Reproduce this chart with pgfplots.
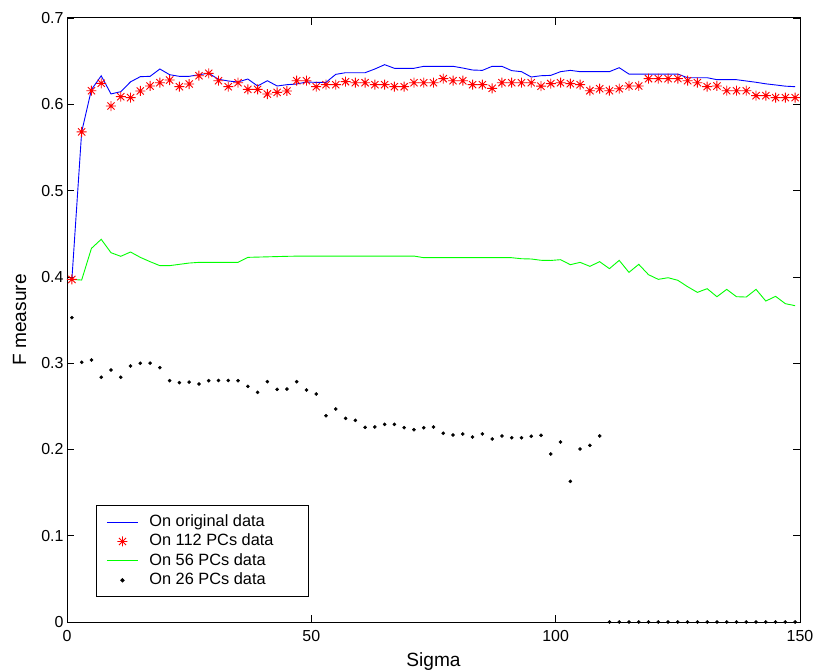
\documentclass[border=0pt]{standalone}
\usepackage{fontspec}
\setmainfont{Liberation Sans}
\usepackage{pgfplots}
\pgfplotsset{compat=1.18}
\usepackage{pgfplotstable}

% eight-armed asterisk marker
\pgfdeclareplotmark{mlstar}{%
  \pgfpathmoveto{\pgfqpoint{-\pgfplotmarksize}{0pt}}%
  \pgfpathlineto{\pgfqpoint{\pgfplotmarksize}{0pt}}%
  \pgfpathmoveto{\pgfqpoint{0pt}{-\pgfplotmarksize}}%
  \pgfpathlineto{\pgfqpoint{0pt}{\pgfplotmarksize}}%
  \pgfpathmoveto{\pgfqpoint{-.72\pgfplotmarksize}{-.72\pgfplotmarksize}}%
  \pgfpathlineto{\pgfqpoint{.72\pgfplotmarksize}{.72\pgfplotmarksize}}%
  \pgfpathmoveto{\pgfqpoint{-.72\pgfplotmarksize}{.72\pgfplotmarksize}}%
  \pgfpathlineto{\pgfqpoint{.72\pgfplotmarksize}{-.72\pgfplotmarksize}}%
  \pgfusepathqstroke}

% F measure against sigma
\pgfplotstableread{
x orig pc112 pc56
1   0.397  0.397  0.397
3   0.568  0.568  0.3963
5   0.617  0.6157 0.433
7   0.633  0.6243 0.4435
9   0.612  0.598  0.428
11  0.6146 0.6088 0.4238
13  0.626  0.6077 0.4288
15  0.632  0.6154 0.4226
17  0.6324 0.6212 0.4176
19  0.6409 0.625  0.413
21  0.6343 0.6281 0.413
23  0.6324 0.6204 0.4145
25  0.6324 0.6235 0.416
27  0.6343 0.6331 0.4168
29  0.6359 0.6359 0.4168
31  0.629  0.6273 0.4168
33  0.627  0.6204 0.4168
35  0.6258 0.625  0.4168
37  0.6293 0.6173 0.4226
39  0.6212 0.6173 0.4229
41  0.6273 0.6119 0.4232
43  0.6212 0.6138 0.4235
45  0.6227 0.6154 0.4238
47  0.6235 0.6273 0.424
49  0.6258 0.6273 0.4241
51  0.6254 0.6204 0.4241
53  0.6254 0.6227 0.4241
55  0.6347 0.6227 0.4241
57  0.6366 0.6262 0.4241
59  0.6366 0.625  0.4241
61  0.6366 0.625  0.4241
63  0.6409 0.6227 0.4241
65  0.6459 0.6227 0.4241
67  0.6417 0.6204 0.4241
69  0.6417 0.6204 0.4241
71  0.6417 0.625  0.4241
73  0.644  0.625  0.4222
75  0.644  0.625  0.4222
77  0.644  0.6297 0.4222
79  0.644  0.6273 0.4222
81  0.642  0.6273 0.4222
83  0.6397 0.6227 0.4222
85  0.6393 0.6227 0.4222
87  0.644  0.6185 0.4222
89  0.644  0.625  0.4222
91  0.639  0.625  0.4222
93  0.6378 0.625  0.421
95  0.6316 0.625  0.4207
97  0.6331 0.621  0.4192
99  0.6335 0.6239 0.419
101 0.6378 0.625  0.4199
103 0.6393 0.6239 0.4141
105 0.6378 0.6227 0.4168
107 0.6378 0.6157 0.4122
109 0.6378 0.618  0.4176
111 0.6378 0.6157 0.4095
113 0.6424 0.618  0.4191
115 0.635  0.6212 0.4052
117 0.635  0.6212 0.4145
119 0.635  0.6297 0.4025
121 0.635  0.6297 0.3971
123 0.635  0.6297 0.399
125 0.635  0.6297 0.396
127 0.6308 0.6273 0.3886
129 0.6308 0.625  0.382
131 0.6308 0.6204 0.3863
133 0.6285 0.6212 0.377
135 0.6285 0.6157 0.3855
137 0.6285 0.6157 0.377
139 0.627  0.6157 0.3766
141 0.6255 0.61   0.3855
143 0.6237 0.61   0.372
145 0.6224 0.6077 0.3774
147 0.621  0.6077 0.3689
149 0.6204 0.6077 0.3666
}\fmeasure

\pgfplotstableread{
x pc26
1   0.3527
3   0.301
5   0.3036
7   0.2836
9   0.292
11  0.2836
13  0.2967
15  0.2998
17  0.300
19  0.2947
21  0.2797
23  0.2774
25  0.278
27  0.2758
29  0.2797
31  0.280
33  0.280
35  0.2797
37  0.2731
39  0.2662
41  0.2785
43  0.2697
45  0.270
47  0.2785
49  0.2689
51  0.2642
53  0.2391
55  0.2468
57  0.236
59  0.2337
61  0.2256
63  0.226
65  0.2291
67  0.2291
69  0.2252
71  0.2229
73  0.2252
75  0.226
77  0.2187
79  0.2167
81  0.2179
83  0.2144
85  0.2179
87  0.2121
89  0.2156
91  0.2136
93  0.2136
95  0.2152
97  0.2163
99  0.1947
101 0.2086
103 0.163
105 0.2005
107 0.2048
109 0.2156
111 0
113 0
115 0
117 0
119 0
121 0
123 0
125 0
127 0
129 0
131 0
133 0
135 0
137 0
139 0
141 0
143 0
145 0
147 0
149 0
}\fmeasureLow

\begin{document}
\begin{tikzpicture}
\useasboundingbox (0,0) rectangle (815bp,671bp);
\begin{axis}[
  at={(67bp,49bp)}, anchor=south west,
  scale only axis, width=733bp, height=604bp,
  xmin=0, xmax=150, ymin=0, ymax=0.7,
  xtick={0,50,100,150},
  ytick={0,0.1,0.2,0.3,0.4,0.5,0.6,0.7},
  yticklabels={0,0.1,0.2,0.3,0.4,0.5,0.6,0.7},
  /pgf/number format/assume math mode=true,
  ticklabel style={font=\fontsize{16}{19}\selectfont},
  xticklabel style={yshift=-4.5bp},
  label style={font=\fontsize{19.2}{22}\selectfont},
  xlabel={Sigma}, ylabel={F measure},
  xlabel style={at={(rel axis cs:0.5,0)}, anchor=base, yshift=-44.5bp},
  ylabel style={at={(rel axis cs:0,0.5)}, anchor=base, yshift=41bp},
  axis line style={line width=1bp},
  tick style={line width=0.6bp, black},
  major tick length=7bp,
  legend image code/.code={%
    \draw[mark repeat=2, mark phase=2, #1]
      plot coordinates {(0bp,0bp) (15.5bp,0bp) (31bp,0bp)};},
  legend style={
    at={(0.0396,0.0414)}, anchor=south west,
    draw=black, line width=1bp,
    font=\fontsize{16.4}{19.4}\selectfont,
    inner xsep=10bp, inner ysep=6.5bp,
    column sep=9bp, row sep=0bp,
    nodes={text height=12.2bp, text depth=3.6bp, inner ysep=1.8bp},
  },
  legend cell align=left,
]
\addplot[blue, line width=0.9bp] table[x=x, y=orig] {\fmeasure};
\addlegendentry{On original data\rule{32bp}{0pt}}
\addplot[red, only marks, mark=mlstar, mark size=5bp, line width=0.9bp] table[x=x, y=pc112] {\fmeasure};
\addlegendentry{On 112 PCs data}
\addplot[green, line width=0.9bp] table[x=x, y=pc56] {\fmeasure};
\addlegendentry{On 56 PCs data}
\addplot[black, only marks, mark=*, mark size=1.6bp] table[x=x, y=pc26] {\fmeasureLow};
\addlegendentry{On 26 PCs data}
\end{axis}
\end{tikzpicture}
\end{document}
